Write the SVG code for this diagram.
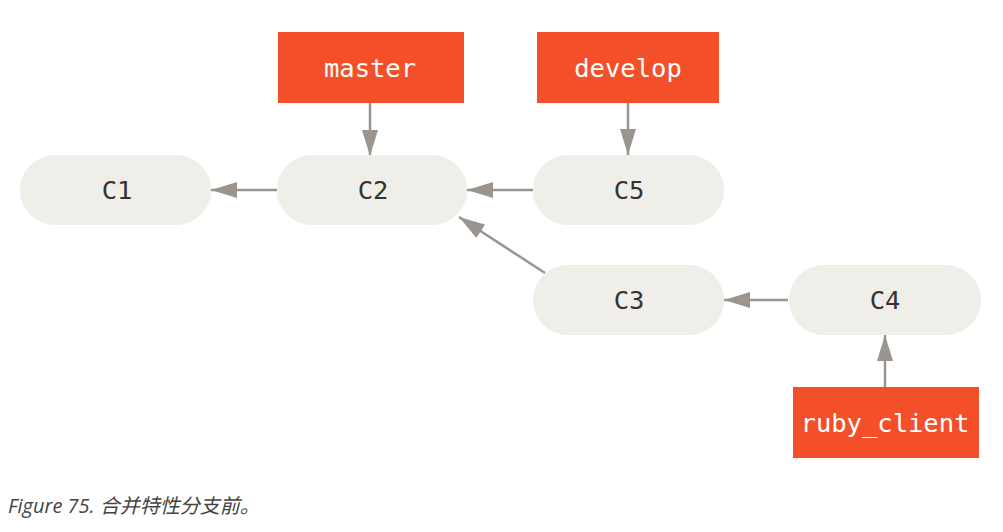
<svg xmlns="http://www.w3.org/2000/svg" width="1003" height="532" viewBox="0 0 1003 532">
<style>
.commit{fill:#efeee8}
.branch{fill:#f34f29}
.ct{font-family:"DejaVu Sans Mono","Liberation Mono",monospace;font-size:25.5px;fill:#333;text-anchor:middle}
.bt{font-family:"DejaVu Sans Mono","Liberation Mono",monospace;font-size:25.5px;fill:#fff;text-anchor:middle}
.edge{stroke:#9a958e;stroke-width:2.5;fill:none;marker-end:url(#ah)}
.cap{font-family:"Open Sans","Noto Sans CJK SC",sans-serif;font-style:italic;font-size:20px;fill:#444}
</style>
<defs>
<marker id="ah" viewBox="0 0 26 16" refX="26" refY="8" markerWidth="26" markerHeight="16" markerUnits="userSpaceOnUse" orient="auto">
<path d="M0,0 L26,8 L0,16 Z" fill="#9a958e"/>
</marker>
</defs>
<g id="connectors">
<line class="edge" x1="370" y1="103" x2="370" y2="156"/>
<line class="edge" x1="628" y1="103" x2="628" y2="155"/>
<line class="edge" x1="277" y1="190" x2="211" y2="190"/>
<line class="edge" x1="533" y1="190" x2="467" y2="190"/>
<line class="edge" x1="545" y1="273" x2="459" y2="217"/>
<line class="edge" x1="788" y1="300" x2="724" y2="300"/>
<line class="edge" x1="885" y1="387" x2="885" y2="335"/>
</g>
<g id="C1"><rect class="commit" x="20" y="155" width="191" height="70" rx="35"/><text class="ct" x="117" y="199">C1</text></g>
<g id="C2"><rect class="commit" x="277" y="155" width="190" height="70" rx="35"/><text class="ct" x="373" y="199">C2</text></g>
<g id="C5"><rect class="commit" x="533" y="155" width="191" height="70" rx="35"/><text class="ct" x="629" y="199">C5</text></g>
<g id="C3"><rect class="commit" x="533" y="265" width="191" height="70" rx="35"/><text class="ct" x="629" y="309">C3</text></g>
<g id="C4"><rect class="commit" x="789" y="265" width="192" height="70" rx="35"/><text class="ct" x="885" y="309">C4</text></g>
<g id="master"><rect class="branch" x="278" y="32" width="186" height="71"/><text class="bt" x="370" y="77">master</text></g>
<g id="develop"><rect class="branch" x="537" y="32" width="182" height="71"/><text class="bt" x="628" y="77">develop</text></g>
<g id="ruby_client"><rect class="branch" x="793" y="387" width="186" height="71"/><text class="bt" x="885" y="432">ruby_client</text></g>
<text class="cap" x="8" y="513">Figure 75. 合并特性分支前。</text>
</svg>
